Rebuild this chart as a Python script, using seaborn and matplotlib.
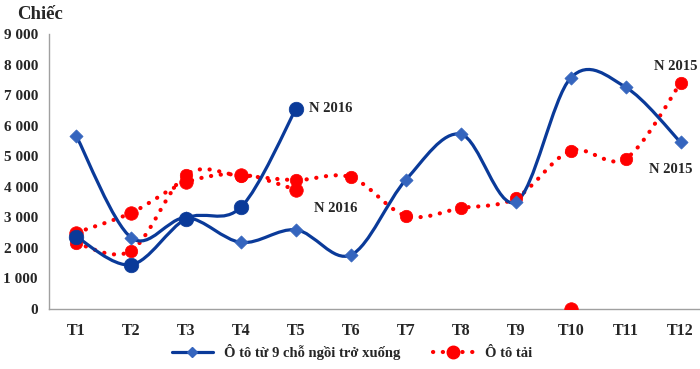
import numpy as np
import pandas as pd
import matplotlib.pyplot as plt
import seaborn as sns
from matplotlib.path import Path
from matplotlib.patches import PathPatch
from matplotlib.lines import Line2D
from matplotlib.ticker import FuncFormatter, MultipleLocator

# Số liệu (chiếc)
thang = ["T1", "T2", "T3", "T4", "T5", "T6", "T7", "T8", "T9", "T10", "T11", "T12"]
oto_con_2015 = [5650, 2330, 2990, 2180, 2590, 1770, 4230, 5720, 3500, 7560, 7260, 5460]
oto_con_2016 = [2360, 1450, 2960, 3340, 6560]
oto_tai_2015 = [2150, 1910, 4400, 4360, 4220, 4310, 3050, 3300, 3630, 5180, 4920, 7390]
oto_tai_2016 = [2500, 3150, 4150, 4400, 3900]
oto_tai_2016_t10 = 0

XANH = "#0A3A99"
XANH_NHAT = "#3565BE"
DO = "#FF0000"
CHAM = (0, (0.05, 2.3))


def duong_cong(ax, y, **kw):
    # đường làm mịn kiểu Excel (Bezier qua các điểm số liệu)
    pts = np.column_stack([np.arange(len(y)), y]).astype(float)
    n = len(pts)
    verts = [pts[0]]
    codes = [Path.MOVETO]
    for i in range(n - 1):
        p0 = pts[max(i - 1, 0)]
        p1 = pts[i]
        p2 = pts[i + 1]
        p3 = pts[min(i + 2, n - 1)]
        verts += [p1 + (p2 - p0) / 6, p2 - (p3 - p1) / 6, p2]
        codes += [Path.CURVE4] * 3
    ax.add_patch(PathPatch(Path(verts, codes), fill=False, **kw))


sns.set_style("white")
plt.rcParams["font.family"] = ["Liberation Serif", "DejaVu Serif"]
plt.rcParams["font.weight"] = "bold"

fig = plt.figure(figsize=(7, 3.69), dpi=100)
ax = fig.add_axes([0.07, 0.1626, 0.9414, 0.7453])

# đường nối
duong_cong(ax, oto_tai_2015, edgecolor=DO, lw=3.0, linestyle=CHAM,
           capstyle="round", zorder=2)
duong_cong(ax, oto_tai_2016, edgecolor=DO, lw=3.0, linestyle=CHAM,
           capstyle="round", zorder=2)
duong_cong(ax, oto_con_2015, edgecolor=XANH, lw=2.3, zorder=3)
duong_cong(ax, oto_con_2016, edgecolor=XANH, lw=2.3, zorder=3)

# điểm số liệu
df_con_2015 = pd.DataFrame({"thang": thang, "so_luong": oto_con_2015})
df_con_2016 = pd.DataFrame({"thang": thang[:5], "so_luong": oto_con_2016})
df_tai_2015 = pd.DataFrame({"thang": thang, "so_luong": oto_tai_2015})
df_tai_2016 = pd.DataFrame({"thang": thang[:5] + ["T10"],
                            "so_luong": oto_tai_2016 + [oto_tai_2016_t10]})

sns.scatterplot(data=df_tai_2015, x="thang", y="so_luong", ax=ax, color=DO,
                marker="o", s=80, edgecolor=DO, linewidth=0.5, zorder=4, legend=False)
sns.scatterplot(data=df_tai_2016, x="thang", y="so_luong", ax=ax, color=DO,
                marker="o", s=95, edgecolor=DO, linewidth=0.5, zorder=4, legend=False)
sns.scatterplot(data=df_con_2015, x="thang", y="so_luong", ax=ax, color=XANH_NHAT,
                marker="D", s=45, edgecolor=XANH_NHAT, linewidth=0.5, zorder=5, legend=False)
sns.scatterplot(data=df_con_2016, x="thang", y="so_luong", ax=ax, color=XANH,
                marker="o", s=110, edgecolor=XANH, linewidth=0.5, zorder=5, legend=False)

# trục
ax.set_xlim(-0.5, 11.5)
ax.set_ylim(0, 9000)
ax.yaxis.set_major_locator(MultipleLocator(1000))
ax.yaxis.set_major_formatter(FuncFormatter(lambda v, p: f"{int(v):,}".replace(",", " ")))
ax.set_xticks(range(12))
ax.set_xticklabels(thang)
ax.set_xticks(np.arange(0.5, 11.5, 1), minor=True)
ax.tick_params(axis="x", which="major", length=0, pad=10, labelsize=11.5)
ax.tick_params(axis="x", which="minor", length=5, color="#A0A0A0", width=1)
ax.tick_params(axis="y", which="major", length=5, color="#A0A0A0", width=1,
               labelsize=11, pad=3)
for t in ax.get_xticklabels() + ax.get_yticklabels():
    t.set_fontweight("bold")
for s in ["top", "right"]:
    ax.spines[s].set_visible(False)
for s in ["left", "bottom"]:
    ax.spines[s].set_color("#A0A0A0")
    ax.spines[s].set_linewidth(1)
ax.set_xlabel("")
ax.set_ylabel("")
ax.grid(False)

fig.text(0.057, 0.962, "Chiếc", ha="center", va="center", fontsize=13.5, fontweight="bold")

# nhãn năm
ax.text(4.24, 6560, "N 2016", ha="left", va="center", fontsize=10.5, fontweight="bold")
ax.text(4.72, 3300, "N 2016", ha="center", va="center", fontsize=10.5, fontweight="bold")
ax.text(10.92, 7950, "N 2015", ha="center", va="center", fontsize=10.5, fontweight="bold")
ax.text(10.82, 4550, "N 2015", ha="center", va="center", fontsize=10.5, fontweight="bold")

# chú thích
h1 = Line2D([], [], color=XANH, lw=2.3, marker="D", markersize=5,
            markerfacecolor=XANH_NHAT, markeredgecolor=XANH_NHAT)
h2 = Line2D([], [], color=DO, lw=3.0, linestyle=CHAM, dash_capstyle="round",
            marker="o", markersize=9, markerfacecolor=DO, markeredgecolor=DO)
fig.legend([h1, h2], ["Ô tô từ 9 chỗ ngồi trở xuống", "Ô tô tải"],
           loc="center", bbox_to_anchor=(0.503, 0.046), ncol=2, frameon=False,
           handlelength=2.8, columnspacing=2.2, numpoints=1,
           prop={"size": 10.5, "weight": "bold"})

fig.savefig("out.png", dpi=100)
